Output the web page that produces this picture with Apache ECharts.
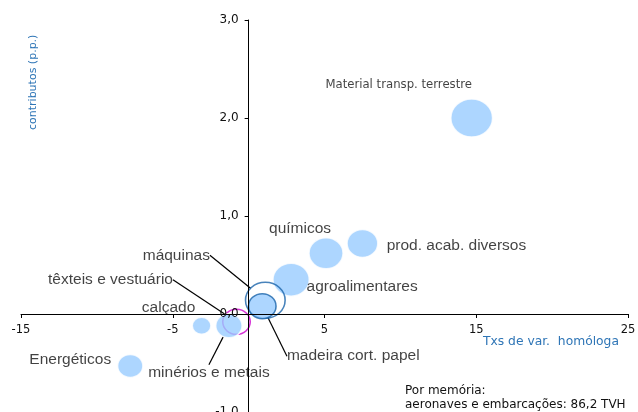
<!DOCTYPE html>
<html><head><meta charset="utf-8">
<script src="https://cdn.jsdelivr.net/npm/echarts@6/dist/echarts.min.js"></script>
<style>html,body{margin:0;padding:0;background:#fff}#c{width:638px;height:412px}</style>
</head><body><div id="c"></div>
<script>
// Data
const sectors = ['Material transp. terrestre','prod. acab. diversos','químicos','agroalimentares','máquinas','madeira cort. papel','têxteis e vestuário','minérios e metais','calçado','Energéticos'];
const txVar   = [14.7, 7.5, 5.1, 2.8, 1.1, 0.9, -0.8, -1.3, -3.1, -7.8];   // Txs de var. homóloga (%)
const contrib = [2.0, 0.72, 0.62, 0.35, 0.14, 0.08, -0.08, -0.12, -0.12, -0.53]; // contributos (p.p.)
const weight  = [38, 28, 31, 33, 36, 25, 25, 24, 17, 23];                  // bubble weight
const xTicks = [-15, -5, 5, 15, 25];
const yTicks = [-1, 0, 1, 2, 3];

const LB = '#99CCFF', DB = '#1A64AA', MG = '#CC00CC', BLUE_TXT = '#2E75B6';
const fillStyle = {color: LB, borderColor: '#ffffff', borderWidth: 1.5};
const styleByName = {
  'máquinas': {color: 'rgba(0,0,0,0)', borderColor: DB, borderWidth: 1.5},
  'madeira cort. papel': {color: LB, borderColor: DB, borderWidth: 1.5},
  'têxteis e vestuário': {color: 'rgba(0,0,0,0)', borderColor: MG, borderWidth: 1.5}
};
const labelOffset = {
  'Material transp. terrestre': [-73, -33],
  'prod. acab. diversos': [94, 2],
  'químicos': [-26, -25],
  'agroalimentares': [71, 7],
  'máquinas': [-89, -45],
  'madeira cort. papel': [91, 50],
  'têxteis e vestuário': [-126, -42],
  'minérios e metais': [-20, 47],
  'calçado': [-33, -18],
  'Energéticos': [-60, -6]
};
const withLeader = ['máquinas','madeira cort. papel','têxteis e vestuário','minérios e metais'];

const data = sectors.map((n, i) => ({
  name: n,
  value: [txVar[i], contrib[i], weight[i]],
  itemStyle: styleByName[n] || fillStyle,
  label: {
    show: true, position: 'inside',
    formatter: '{b}', color: '#111',
    fontFamily: n === 'Material transp. terrestre' ? 'DejaVu Sans' : 'Liberation Sans',
    fontSize: n === 'Material transp. terrestre' ? 11.7 : 15.5
  },
  labelLine: {show: withLeader.indexOf(n) >= 0, length2: 0, smooth: false,
    lineStyle: {color: '#000', width: 1.2}}
}));

const GRID = {left: 21, right: 10, top: 20, bottom: 0};
const W = 638, H = 412;
const fmt = v => v.toFixed(1).replace('.', ',');
const chart = echarts.init(document.getElementById('c'), null, {renderer: 'canvas'});
chart.setOption({
  animation: false,
  backgroundColor: '#fff',
  grid: Object.assign({outerBoundsMode: 'none', containLabel: false}, GRID),
  xAxis: {
    type: 'value', min: -15, max: 25, interval: 5, z: 3,
    splitLine: {show: false},
    axisLine: {onZero: false, lineStyle: {color: '#000', width: 1}},
    axisTick: {show: true, length: 4, customValues: xTicks, lineStyle: {color: '#000'}},
    axisLabel: {customValues: xTicks, margin: 10, color: '#111', fontFamily: 'DejaVu Sans', fontSize: 11.5}
  },
  yAxis: {
    type: 'value', min: -1, max: 3, interval: 1, z: 3,
    splitLine: {show: false},
    axisLine: {onZero: false, lineStyle: {color: '#000', width: 1}},
    axisTick: {show: true, length: 4, lineStyle: {color: '#000'}},
    axisLabel: {formatter: fmt, margin: 10, color: '#111', fontFamily: 'DejaVu Sans', fontSize: 12, showMaxLabel: true, showMinLabel: true}
  },
  graphic: [
    {type: 'text', left: 483, top: 336, style: {text: 'Txs de var.  homóloga', fill: BLUE_TXT, font: '12.3px "DejaVu Sans"'}},
    {type: 'text', left: 405, top: 385, style: {text: 'Por memória:', fill: '#111', font: '12px "DejaVu Sans"'}},
    {type: 'text', left: 405, top: 399, style: {text: 'aeronaves e embarcações: 86,2 TVH', fill: '#111', font: '12px "DejaVu Sans"'}},
    {type: 'text', x: 28, y: 130, rotation: Math.PI / 2, style: {text: 'contributos (p.p.)', fill: BLUE_TXT, font: '11px "DejaVu Sans"'}}
  ],
  series: [{
    type: 'scatter',
    data: data,
    symbol: 'circle',
    symbolSize: v => [v[2] * 1.1, v[2]],
    labelLayout: p => { const o = labelOffset[sectors[p.dataIndex]]; return {dx: o[0], dy: o[1]}; },
    labelLine: {show: true, length2: 0, lineStyle: {color: '#000', width: 1.2}},
    emphasis: {disabled: true},
    z: 1
  }]
});
// Move both axes (line, ticks and labels) so they cross at the origin, using the library's scales
const x0 = chart.convertToPixel({xAxisIndex: 0}, 0);
const y0 = chart.convertToPixel({yAxisIndex: 0}, 0);
chart.setOption({
  yAxis: {offset: -(x0 - GRID.left)},
  xAxis: {offset: -((H - GRID.bottom) - y0)}
});
</script></body></html>
